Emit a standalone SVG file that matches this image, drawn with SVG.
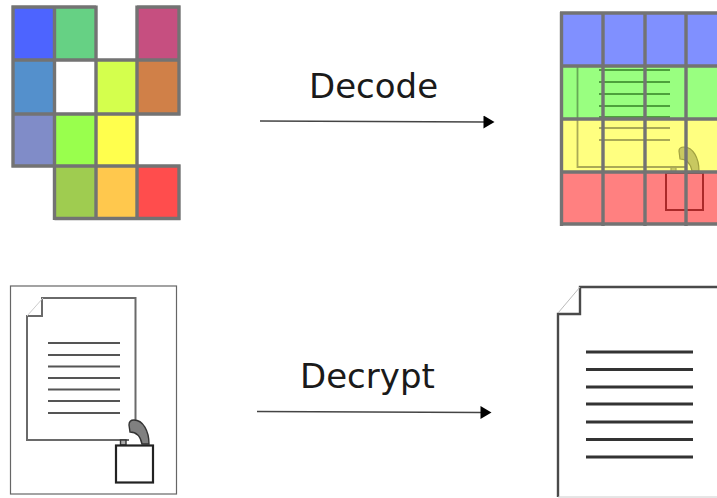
<svg xmlns="http://www.w3.org/2000/svg" width="717" height="498" viewBox="0 0 717 498">
<style>
text{font-family:"DejaVu Sans",sans-serif;font-size:34px;fill:#1a1a1a}
.g{stroke:#737373;stroke-width:3.400;fill:none}
.c{stroke:none}
.doc{fill:none;stroke:#6a6a6a;stroke-width:2}
.ln{stroke:#555;stroke-width:2;fill:none}
.big{fill:none;stroke:#4a4a4a;stroke-width:2.400}
.bl{stroke:#333;stroke-width:2.800;fill:none}
.conn{stroke:#444;stroke-width:1.400;fill:none}
</style>
<defs>
<marker id="ah" markerUnits="userSpaceOnUse" markerWidth="12" markerHeight="14" refX="1" refY="7" orient="auto"><path d="M0 0.500L11 7L0 13.500Z" fill="#000"/></marker>
</defs>
<g id="node-encoded-grid">
<rect class="c" x="13" y="7" width="41.500" height="53" fill="#4d64ff"/>
<rect class="c" x="54.500" y="7" width="41.500" height="53" fill="#66d184"/>
<rect class="c" x="137" y="7" width="42" height="53" fill="#c64f80"/>
<rect class="c" x="13" y="60" width="41.500" height="54" fill="#5490cc"/>
<rect class="c" x="96" y="60" width="41" height="54" fill="#d4ff4d"/>
<rect class="c" x="137" y="60" width="42" height="54" fill="#d08048"/>
<rect class="c" x="13" y="114" width="41.500" height="52" fill="#808cc8"/>
<rect class="c" x="54.500" y="114" width="41.500" height="52" fill="#99ff4d"/>
<rect class="c" x="96" y="114" width="41" height="52" fill="#ffff4d"/>
<rect class="c" x="54.500" y="166" width="41.500" height="52.500" fill="#9fcc50"/>
<rect class="c" x="96" y="166" width="41" height="52.500" fill="#ffc84d"/>
<rect class="c" x="137" y="166" width="42" height="52.500" fill="#ff4d4d"/>
<path class="g" d="M11.500 7H96M137 7H180.500M11.500 60H180.500M11.500 114H180.500M11.500 166H96M96 166H180.500M54.500 218.500H180.500M13 5.500V167.500M54.500 5.500V220M96 5.500V60M96 60V220M137 5.500V220M179 5.500V115.500M179 164.500V220"/>
</g>
<g id="node-decoded-grid">
<rect class="c" x="561.500" y="13" width="155.500" height="53" fill="#8090ff"/>
<rect class="c" x="561.500" y="66" width="155.500" height="53" fill="#99ff80"/>
<rect class="c" x="561.500" y="119" width="155.500" height="53" fill="#ffff80"/>
<rect class="c" x="561.500" y="172" width="155.500" height="52" fill="#ff8080"/>
<path d="M577.500 66V119" fill="none" stroke="#66aa55" stroke-width="1.800"/>
<path d="M577.500 119V167H685" fill="none" stroke="#aaaa55" stroke-width="1.800"/>
<path d="M599 70H670M599 82H670M599 94H670M599 106H670M599 117H670" fill="none" stroke="#4da03c" stroke-width="2"/>
<path d="M599 128H670M599 140H670" fill="none" stroke="#aaaa55" stroke-width="2"/>
<path d="M679 151Q679 147 684 147C693 147 699 158 699 171L692 171C691 166 688 159 680 159Z" fill="#c8c860" stroke="#a0a040" stroke-width="1.200"/>
<rect x="671" y="167.500" width="5" height="4.500" fill="#cccc60" stroke="#aaaa55" stroke-width="1.200"/>
<rect x="666" y="173" width="37" height="37" fill="none" stroke="#aa2a2a" stroke-width="2"/>
<path class="g" d="M560 13H717M560 66H717M560 119H717M560 172H717M560 224H717M561.500 12V226M603 12V226M645 12V226M686 12V226"/>
</g>
<g id="node-encrypted-document">
<rect x="10.500" y="286" width="166" height="208" fill="#fff" stroke="#666" stroke-width="1.200"/>
<path class="doc" d="M135.500 427V298H42V316H27V440H129"/>
<path d="M27 316L43 298" stroke="#ccc" stroke-width="1" fill="none"/>
<path class="ln" d="M48 343H120M48 355H120M48 366.500H120M48 378H120M48 389.500H120M48 401H120M48 413H120"/>
<path d="M129 425Q129 420 134 420C143 420 149 431 149 444L142 444C141 439 138 432 130 432Z" fill="#808080" stroke="#333" stroke-width="1.400"/>
<rect x="120.500" y="440" width="5.500" height="5" fill="#aaa" stroke="#333" stroke-width="1.400"/>
<rect x="116" y="445.500" width="37" height="37" fill="#fff" stroke="#222" stroke-width="2.200"/>
</g>
<g id="node-plain-document">
<path class="big" d="M717 287H580V314H558V497"/>
<path d="M558 497H717" fill="none" stroke="#ccc" stroke-width="1"/>
<path d="M580 287L558 313" stroke="#bbb" stroke-width="1" fill="none"/>
<path class="bl" d="M586 352H693M586 369.500H693M586 387H693M586 404H693M586 422H693M586 439.500H693M586 457H693"/>
</g>
<g id="connectors">
<path class="conn" d="M260 121L484.500 122" marker-end="url(#ah)"/>
<path class="conn" d="M257 411.500L481.500 412.500" marker-end="url(#ah)"/>
</g>
<g id="labels">
<text x="309" y="98">Decode</text>
<text x="300" y="388">Decrypt</text>
</g>
</svg>
